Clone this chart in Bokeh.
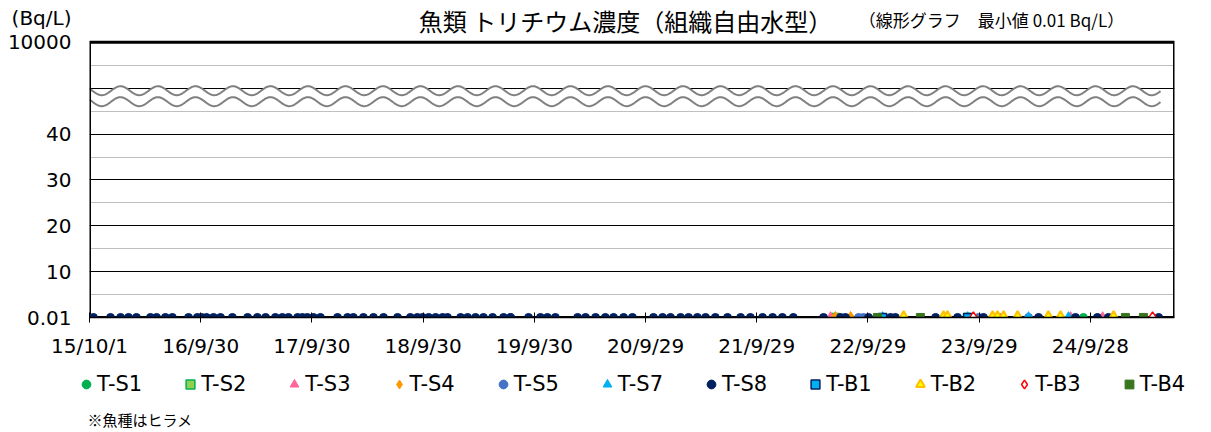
import numpy as np
import pandas as pd
from bokeh.plotting import figure
from bokeh.layouts import column
from bokeh.models import Range1d, FixedTicker, Legend, LegendItem
from bokeh.core.properties import value
from bokeh.embed import file_html
from bokeh.resources import INLINE

# ---------------- data ----------------
origin_date = "2015-10-01"
end_date = "2025-07-01"
tick_dates = ["2015-10-01", "2016-09-30", "2017-09-30", "2018-09-30", "2019-09-30",
              "2020-09-29", "2021-09-29", "2022-09-29", "2023-09-29", "2024-09-28"]
tick_labels = ["15/10/1", "16/9/30", "17/9/30", "18/9/30", "19/9/30",
               "20/9/29", "21/9/29", "22/9/29", "23/9/29", "24/9/28"]
y_ticks = [0, 10, 20, 30, 40, 60]
y_tick_labels = ["0.01", "10", "20", "30", "40", "10000"]

ts1_dates = ["2022-06-08", "2024-09-05"]
ts1_vals = [0.01, 0.01]
ts2_dates = ["2022-06-14", "2023-08-22"]
ts2_vals = [0.01, 0.01]
ts3_dates = ["2022-05-29", "2024-07-25", "2024-11-07"]
ts3_vals = [0.01, 0.01, 0.01]
ts4_dates = ["2022-06-14", "2022-08-03"]
ts4_vals = [0.01, 0.01]
ts5_dates = ["2022-08-29", "2022-09-14", "2023-09-27", "2024-03-09"]
ts5_vals = [0.01, 0.01, 0.01, 0.01]
ts7_dates = ["2022-11-16", "2023-08-22", "2024-03-09", "2024-07-18"]
ts7_vals = [0.01, 0.01, 0.01, 0.01]
ts8_dates = ["2015-10-14", "2015-12-09", "2016-01-11", "2016-02-06", "2016-03-03", "2016-04-18",
             "2016-05-08", "2016-06-06", "2016-06-29", "2016-08-21", "2016-09-19", "2016-10-03",
             "2016-10-19", "2016-11-11", "2016-12-04", "2017-01-12", "2017-03-03", "2017-04-04",
             "2017-05-01", "2017-06-02", "2017-06-25", "2017-07-15", "2017-08-14", "2017-08-30",
             "2017-09-15", "2017-10-05", "2017-10-28", "2017-12-23", "2018-01-25", "2018-02-13",
             "2018-03-18", "2018-04-20", "2018-05-23", "2018-07-08", "2018-08-19", "2018-09-11",
             "2018-09-28", "2018-10-18", "2018-11-10", "2018-12-03", "2018-12-19", "2019-01-31",
             "2019-02-23", "2019-03-21", "2019-04-16", "2019-05-16", "2019-06-21", "2019-07-14",
             "2019-09-11", "2019-10-20", "2019-11-12", "2019-12-08", "2020-02-19", "2020-03-16",
             "2020-04-18", "2020-05-20", "2020-06-16", "2020-07-19", "2020-08-17", "2020-10-25",
             "2020-11-24", "2020-12-20", "2021-01-22", "2021-02-17", "2021-03-18", "2021-04-14",
             "2021-05-16", "2021-06-25", "2021-08-07", "2021-09-08", "2021-10-18", "2021-11-20",
             "2021-12-22", "2022-01-27", "2022-05-06", "2022-07-01", "2022-07-17", "2022-10-01",
             "2022-12-12", "2022-12-28", "2023-05-09", "2023-07-20", "2023-10-13", "2023-12-01",
             "2024-04-11", "2024-08-10", "2024-10-21", "2024-11-26", "2025-05-10"]
ts8_vals = [0.01, 0.01, 0.01, 0.01, 0.01, 0.01, 0.01, 0.01, 0.01, 0.01, 0.01, 0.01,
            0.01, 0.01, 0.01, 0.01, 0.01, 0.01, 0.01, 0.01, 0.01, 0.01, 0.01, 0.01,
            0.01, 0.01, 0.01, 0.01, 0.01, 0.01, 0.01, 0.01, 0.01, 0.01, 0.01, 0.01,
            0.01, 0.01, 0.01, 0.01, 0.01, 0.01, 0.01, 0.01, 0.01, 0.01, 0.01, 0.01,
            0.01, 0.01, 0.01, 0.01, 0.01, 0.01, 0.01, 0.01, 0.01, 0.01, 0.01, 0.01,
            0.01, 0.01, 0.01, 0.01, 0.01, 0.01, 0.01, 0.01, 0.01, 0.01, 0.01, 0.01,
            0.01, 0.01, 0.01, 0.01, 0.01, 0.01, 0.01, 0.01, 0.01, 0.01, 0.01, 0.01,
            0.01, 0.01, 0.01, 0.01, 0.01]
tb1_dates = ["2022-11-16", "2023-08-22"]
tb1_vals = [0.01, 0.01]
tb2_dates = ["2023-01-24", "2023-06-04", "2023-06-17", "2023-11-12", "2023-11-28",
             "2023-12-18", "2024-02-02", "2024-05-13", "2024-06-22", "2024-12-13"]
tb2_vals = [0.01, 0.01, 0.01, 0.01, 0.01, 0.01, 0.01, 0.01, 0.01, 0.01]
tb3_dates = ["2023-09-10", "2025-04-20"]
tb3_vals = [0.01, 0.01]
tb4_dates = ["2022-10-30", "2023-03-20", "2025-01-21", "2025-03-21"]
tb4_vals = [0.01, 0.01, 0.01, 0.01]

series_names = ["T-S1", "T-S2", "T-S3", "T-S4", "T-S5", "T-S7", "T-S8",
                "T-B1", "T-B2", "T-B3", "T-B4"]
series_dates = [ts1_dates, ts2_dates, ts3_dates, ts4_dates, ts5_dates, ts7_dates, ts8_dates,
                tb1_dates, tb2_dates, tb3_dates, tb4_dates]
series_vals = [ts1_vals, ts2_vals, ts3_vals, ts4_vals, ts5_vals, ts7_vals, ts8_vals,
               tb1_vals, tb2_vals, tb3_vals, tb4_vals]

title_text = "魚類 トリチウム濃度（組織自由水型）"
subtitle_text = "（線形グラフ　最小値 0.01 Bq/L）"
unit_text = "(Bq/L)"
note_text = "※魚種はヒラメ"

# ---------------- styles ----------------
styles = [
    dict(marker="circle", size=8, fill_color="#00B050", line_color="#00B050", line_width=1),
    dict(marker="square", size=8, fill_color="#92D050", line_color="#00B050", line_width=1.5),
    dict(marker="triangle", size=10, fill_color="#FF6699", line_color="#FF6699", line_width=1),
    dict(marker="diamond", size=12, fill_color="#FF9900", line_color="#FF9900", line_width=1),
    dict(marker="circle", size=8, fill_color="#4472C4", line_color="#4472C4", line_width=1),
    dict(marker="triangle", size=10, fill_color="#00B0F0", line_color="#00B0F0", line_width=1),
    dict(marker="circle", size=8, fill_color="#002060", line_color="#002060", line_width=1),
    dict(marker="square", size=8, fill_color="#00B0F0", line_color="#002060", line_width=1.5),
    dict(marker="triangle", size=11, fill_color="#FFFF00", line_color="#FFC000", line_width=2),
    dict(marker="diamond", size=11, fill_color="#FFFFFF", line_color="#FF0000", line_width=1.5),
    dict(marker="square", size=8, fill_color="#38761D", line_color="#38761D", line_width=1),
]

W = 1205
FONT = "DejaVu Sans"
JP = "Noto Sans CJK JP"

# page geometry (px): plot area 89..1174 x 42..318, header band above it
PLOT_L, PLOT_R, PLOT_T, PLOT_B = 89, 1174, 42, 318
Y_TOP = 60          # value shown as "10000" at the top of the plot area


def to_days(dates):
    return list((pd.to_datetime(dates) - pd.Timestamp(origin_date)).days)


x_end = to_days([end_date])[0]
x_ticks = to_days(tick_dates)
px_per_day = (PLOT_R - PLOT_L) / x_end
px_per_unit = (PLOT_B - PLOT_T) / Y_TOP
y_end = PLOT_B / px_per_unit          # frame reaches the top of the page (header band)


def px_to_x(px):
    return (px - PLOT_L) / px_per_day


def px_to_y(py):
    return (PLOT_B - py) / px_per_unit


# ---------------- main chart (frame includes the header band) ----------------
MAIN_H = 360
p = figure(width=W, height=MAIN_H, x_range=Range1d(0, x_end), y_range=Range1d(0, y_end),
           output_backend="svg", toolbar_location=None, title=None,
           min_border_left=PLOT_L, min_border_right=W - PLOT_R, min_border_top=0,
           min_border_bottom=MAIN_H - PLOT_B)
if "frame_align" in p.properties():
    p.frame_align = False
p.background_fill_color = "white"
p.border_fill_color = "white"
p.outline_line_color = None

p.xaxis.ticker = FixedTicker(ticks=x_ticks)
p.xaxis.major_label_overrides = {int(t): lab for t, lab in zip(x_ticks, tick_labels)}
p.xaxis.major_tick_in = 5
p.xaxis.major_tick_out = 5
p.xaxis.minor_tick_in = 0
p.xaxis.minor_tick_out = 0
p.xaxis.major_tick_line_color = "black"
p.xaxis.axis_line_color = "black"
p.xaxis.axis_line_width = 1.5
p.xaxis.major_label_text_font = FONT
p.xaxis.major_label_text_font_size = "20px"
p.xaxis.major_label_text_color = "black"
p.xaxis.major_label_standoff = 11

unit_y = round(px_to_y(18), 3)
y_all_ticks = y_ticks + [unit_y]
y_overrides = {t: lab for t, lab in zip(y_ticks, y_tick_labels)}
y_overrides[unit_y] = unit_text
p.yaxis.ticker = FixedTicker(ticks=y_all_ticks)
p.yaxis.major_label_overrides = y_overrides
p.yaxis.major_tick_in = 0
p.yaxis.major_tick_out = 0
p.yaxis.minor_tick_in = 0
p.yaxis.minor_tick_out = 0
p.yaxis.axis_line_color = None
p.yaxis.major_label_text_font = FONT
p.yaxis.major_label_text_font_size = "20px"
p.yaxis.major_label_text_color = "black"
p.yaxis.major_label_standoff = 18

p.xgrid.visible = False
p.ygrid.ticker = FixedTicker(ticks=[10, 20, 30, 40, 50], minor_ticks=[5, 15, 25, 35, 45, 55])
p.ygrid.grid_line_color = "black"
p.ygrid.grid_line_width = 1
p.ygrid.minor_grid_line_color = "#BFBFBF"
p.ygrid.minor_grid_line_width = 1

# axis-break waves (decoration)
wave_x = np.linspace(0, px_to_x(1160), 1200)
period = 37.5 / px_per_day
phase = 101.7
amp = 4.5 / px_per_unit
upper_c = px_to_y(90.5)
lower_c = px_to_y(101.5)
wave_up = upper_c + amp * np.cos(2 * np.pi * (wave_x - phase) / period)
wave_lo = lower_c + amp * np.cos(2 * np.pi * (wave_x - phase) / period)
p.varea(x=wave_x, y1=wave_lo, y2=wave_up, fill_color="white")
p.line(wave_x, wave_up, line_color="#808080", line_width=2)
p.line(wave_x, wave_lo, line_color="#808080", line_width=2)

# plot-area border (left axis line, top and right edges)
p.quad(left=[0], right=[x_end], bottom=[0], top=[Y_TOP], fill_color=None,
       line_color="black", line_width=3)

for name, ds, vs, st in zip(series_names, series_dates, series_vals, styles):
    p.scatter(x=to_days(ds), y=vs, **st)

# header texts
p.text(x=[px_to_x(625)], y=[px_to_y(20)], text=[title_text], text_font=value(JP),
       text_font_size=value("24px"), text_align="center", text_baseline="middle",
       text_color="black")
p.text(x=[px_to_x(991)], y=[px_to_y(19)], text=[subtitle_text], text_font=value(JP),
       text_font_size=value("17px"), text_align="center", text_baseline="middle",
       text_color="black")

# ---------------- bottom strip (legend + note) ----------------
BOT_H = 70
bot = figure(width=W, height=BOT_H, frame_width=W, frame_height=BOT_H,
             x_range=Range1d(0, W), y_range=Range1d(BOT_H, 0),
             output_backend="svg", toolbar_location=None, title=None,
             x_axis_location=None, y_axis_location=None,
             min_border=0, min_border_left=0, min_border_right=0,
             min_border_top=0, min_border_bottom=0)
if "frame_align" in bot.properties():
    bot.frame_align = False
bot.xgrid.visible = False
bot.ygrid.visible = False
bot.outline_line_color = None
bot.background_fill_color = "white"
bot.border_fill_color = "white"

items = []
for name, ds, vs, st in zip(series_names, series_dates, series_vals, styles):
    # hidden copies of the series: they only feed the legend swatches
    r = bot.scatter(x=to_days(ds), y=vs, visible=False, **st)
    items.append(LegendItem(label=name, renderers=[r]))
legend = Legend(items=items, orientation="horizontal", location=(75, BOT_H - 36),
                glyph_width=22, glyph_height=22, label_standoff=0, spacing=37,
                padding=0, margin=0, border_line_alpha=0, background_fill_alpha=0,
                inactive_fill_alpha=0,
                label_text_font=FONT, label_text_font_size="21px",
                label_height=22, label_text_color="black")
bot.add_layout(legend, "center")
bot.text(x=[87], y=[59], text=[note_text], text_font=value(JP), text_font_size=value("15px"),
         text_align="left", text_baseline="middle", text_color="black")

layout = column(p, bot, spacing=0)
open("out.html", "w").write(file_html(layout, INLINE))
